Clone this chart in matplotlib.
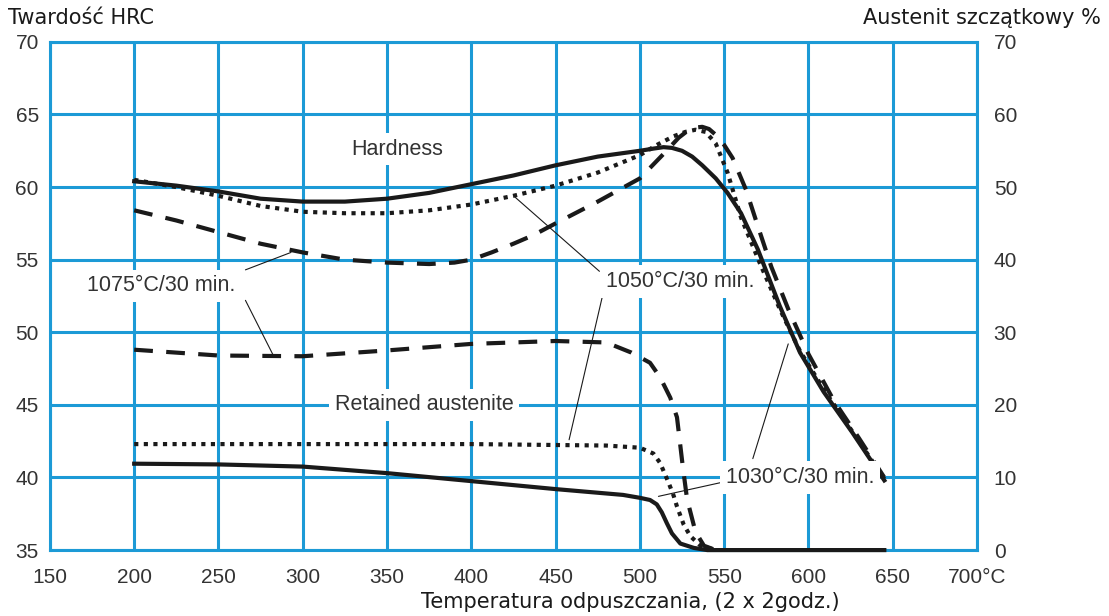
import matplotlib
matplotlib.use("Agg")
import matplotlib.pyplot as plt

# hardness curves (HRC, left axis)
t_h1030 = [200, 225, 250, 275, 300, 325, 350, 375, 400, 425, 450, 475, 500, 508, 514, 519,
           525, 531, 537, 545, 552, 560, 570, 583, 595, 609, 626, 645]
h1030 = [60.4, 60.1, 59.7, 59.2, 59.0, 59.0, 59.2, 59.6, 60.2, 60.8, 61.5, 62.1, 62.5, 62.65, 62.75, 62.7,
         62.5, 62.1, 61.5, 60.6, 59.6, 58.2, 55.7, 51.8, 48.6, 45.9, 43.1, 39.8]

t_h1050 = [200, 225, 250, 275, 300, 325, 350, 375, 400, 425, 450, 475, 500, 510, 520,
           527, 533, 539, 545, 552, 560, 571, 583, 595, 610, 627, 645]
h1050 = [60.5, 60.0, 59.4, 58.7, 58.3, 58.2, 58.2, 58.4, 58.8, 59.4, 60.1, 61.0, 62.2, 62.9, 63.5,
         63.8, 63.95, 63.8, 63.0, 61.0, 57.9, 54.8, 51.6, 48.7, 45.9, 43.0, 39.9]

t_h1075 = [200, 225, 250, 275, 300, 325, 350, 375, 390, 400, 412, 425, 437, 450, 475, 500, 515, 523,
           528, 533, 537, 541, 545, 550, 555, 563, 570, 578, 588, 600, 615, 630, 645]
h1075 = [58.4, 57.7, 56.9, 56.1, 55.5, 55.0, 54.8, 54.7, 54.8, 55.0, 55.5, 56.1, 56.7, 57.5, 59.0, 60.6, 62.4, 63.4,
         63.85, 64.1, 64.15, 64.0, 63.6, 62.9, 62.0, 59.8, 57.3, 54.5, 51.6, 48.5, 45.3, 42.7, 40.0]

# retained austenite curves (%, right axis)
t_a1030 = [200, 250, 300, 350, 400, 450, 490, 500, 506, 510, 513, 516, 519, 524, 532, 540, 600, 645]
a1030 = [11.9, 11.8, 11.5, 10.6, 9.5, 8.4, 7.6, 7.2, 6.9, 6.3, 5.2, 3.7, 2.3, 0.9, 0.3, 0.0, 0.0, 0.0]

t_a1050 = [200, 300, 400, 480, 500, 508, 512, 517, 520, 522, 526, 530, 536, 545]
a1050 = [14.6, 14.6, 14.6, 14.4, 14.1, 13.3, 12.0, 9.3, 7.5, 6.0, 3.5, 1.9, 0.6, 0.0]

t_a1075 = [200, 250, 300, 350, 400, 450, 480, 495, 506, 512, 518, 522, 525.5, 528, 533, 538, 545]
a1075 = [27.6, 26.8, 26.7, 27.5, 28.4, 28.8, 28.6, 27.2, 25.8, 23.8, 21.0, 18.3, 11.4, 7.0, 2.5, 0.6, 0.0]

x_ticks = [150, 200, 250, 300, 350, 400, 450, 500, 550, 600, 650, 700]
x_labels = ["150", "200", "250", "300", "350", "400", "450", "500", "550", "600", "650", "700°C"]
hrc_ticks = [35, 40, 45, 50, 55, 60, 65, 70]
aus_ticks = [0, 10, 20, 30, 40, 50, 60, 70]

BLUE = "#1c9ad6"
INK = "#1a1a1a"
TXT = "#333333"
lab_font = ["Liberation Sans", "DejaVu Sans"]

fig = plt.figure(figsize=(11.09, 6.16), dpi=100)
ax = fig.add_axes([0.045, 0.107, 0.836, 0.825])
ax.set_xlim(150, 700)
ax.set_ylim(35, 70)
ax.set_xticks(x_ticks)
ax.set_xticklabels(x_labels)
ax.set_yticks(hrc_ticks)
ax.grid(True, color=BLUE, lw=2.2)
ax.set_axisbelow(True)
for s in ax.spines.values():
    s.set_color(BLUE)
    s.set_linewidth(2.2)
ax.tick_params(length=0, labelsize=15, labelcolor=TXT)
ax.tick_params(axis="x", pad=13)
ax.tick_params(axis="y", pad=8)
for lbl in ax.get_xticklabels() + ax.get_yticklabels():
    lbl.set_family(lab_font)

ax2 = ax.twinx()
ax2.set_ylim(0, 70)
ax2.set_yticks(aus_ticks)
ax2.tick_params(length=0, labelsize=15, labelcolor=TXT, pad=12)
for lbl in ax2.get_yticklabels():
    lbl.set_family(lab_font)
for s in ax2.spines.values():
    s.set_visible(False)

dot = (0, (1.0, 1.3))
dash = (0, (4.5, 3.2))
lw = 3.0

ax.plot(t_h1030, h1030, color=INK, lw=lw, zorder=3)
ax.plot(t_h1050, h1050, color=INK, lw=lw, ls=dot, zorder=3)
ax.plot(t_h1075, h1075, color=INK, lw=lw, ls=dash, zorder=3)
ax2.plot(t_a1030, a1030, color=INK, lw=lw, clip_on=False, zorder=3)
ax2.plot(t_a1050, a1050, color=INK, lw=lw, ls=dot, clip_on=False, zorder=3)
ax2.plot(t_a1075, a1075, color=INK, lw=lw, ls=dash, clip_on=False, zorder=3)

box = dict(facecolor="white", edgecolor="none", pad=4)
tk = dict(fontsize=15.5, color=TXT, family=lab_font, ha="center", va="center", bbox=box, zorder=4)
ax.text(356, 62.6, "Hardness", **tk)
ax.text(372, 45.0, "Retained austenite", **tk)
ax.text(216, 53.2, "1075°C/30 min.", **tk)
ax.text(524, 53.5, "1050°C/30 min.", **tk)
ax.text(595, 40.0, "1030°C/30 min.", **tk)

# leader lines
lk = dict(arrowprops=dict(arrowstyle="-", color=INK, lw=0.8, shrinkA=0, shrinkB=0))
ax.annotate("", xy=(293, 55.5), xytext=(266, 54.3), **lk)
ax.annotate("", xy=(283, 48.3), xytext=(266, 52.2), **lk)
ax.annotate("", xy=(426, 59.3), xytext=(476, 54.2), **lk)
ax.annotate("", xy=(458, 42.6), xytext=(478, 52.6), **lk)
ax.annotate("", xy=(588, 49.2), xytext=(567, 41.3), **lk)
ax.annotate("", xy=(511, 38.7), xytext=(550, 39.7), **lk)

fig.text(0.007, 0.97, "Twardość HRC", fontsize=15, color=INK, va="center", ha="left")
fig.text(0.993, 0.97, "Austenit szczątkowy %", fontsize=15, color=INK, va="center", ha="right")
fig.text(0.568, 0.022, "Temperatura odpuszczania, (2 x 2godz.)", fontsize=15, color=INK,
         va="center", ha="center")

fig.savefig("out.png", dpi=100)
